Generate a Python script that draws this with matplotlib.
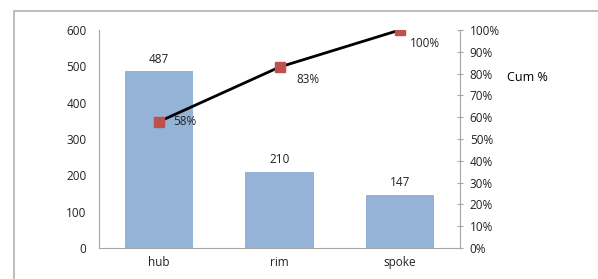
import matplotlib
matplotlib.use('Agg')
import matplotlib.pyplot as plt
from matplotlib.patches import Rectangle

# data
categories = ['hub', 'rim', 'spoke']
counts = [487, 210, 147]
cum_pct = [58, 83, 100]

plt.rcParams['font.family'] = ['Open Sans', 'DejaVu Sans']
plt.rcParams['font.size'] = 8.5

fig = plt.figure(figsize=(5.98, 2.79), dpi=100)
# outer chart border (right and bottom edges fall outside the image)
fig.patches.append(Rectangle((14/598, -0.1), 1.0, 1.1 - 11/279, transform=fig.transFigure,
                             fill=False, edgecolor='#b0b0b0', linewidth=1.2))

ax = fig.add_axes([99/598, 31/279, 361/598, 218/279])
x = range(len(categories))
bars = ax.bar(x, counts, width=0.57, color='#95b3d7')
for xi, v in zip(x, counts):
    ax.text(xi, v + 15, str(v), ha='center', va='bottom', color='#222222')

ax.set_ylim(0, 600)
ax.set_xlim(-0.5, 2.5)
ax.set_yticks(range(0, 601, 100))
ax.set_xticks(list(x))
ax.set_xticklabels(categories)
ax.tick_params(axis='both', length=0, pad=9, colors='#222222')
ax.tick_params(axis='x', pad=6)
for s in ['top', 'right']:
    ax.spines[s].set_visible(False)
for s in ['left', 'bottom']:
    ax.spines[s].set_color('#a6a6a6')

ax2 = ax.twinx()
ax2.plot(list(x), cum_pct, color='black', linewidth=2, marker='s', markersize=7,
         markerfacecolor='#c0504d', markeredgecolor='#c0504d', zorder=3)
ax2.set_ylim(0, 100)
ax2.set_yticks(range(0, 101, 10))
ax2.set_yticklabels([f'{t}%' for t in range(0, 101, 10)])
ax2.tick_params(axis='y', length=4, direction='inout', pad=5, colors='#222222', color='#a6a6a6')
ax2.set_ylabel('Cum %', rotation=0, va='center', ha='left', fontsize=9)
ax2.yaxis.set_label_coords(1.13, 0.78)
for s in ['top', 'left', 'bottom']:
    ax2.spines[s].set_visible(False)
ax2.spines['right'].set_color('#a6a6a6')

offsets = [(10, 0, 'center'), (12, -4, 'top'), (7, -5, 'top')]
for xi, p, (dx, dy, va) in zip(x, cum_pct, offsets):
    ax2.annotate(f'{p}%', (xi, p), xytext=(dx, dy), textcoords='offset points',
                 ha='left', va=va, color='#222222')

fig.savefig('out.png', dpi=100)
